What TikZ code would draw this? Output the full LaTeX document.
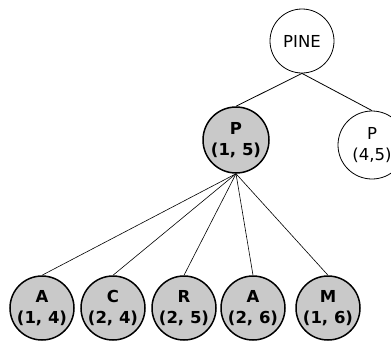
\documentclass[tikz,border=0pt]{standalone}
\usepackage{fontspec}
\setmainfont{DejaVu Sans}
\tikzset{
  trie/.style={circle, draw, minimum size=64pt, inner sep=0pt, align=center, font=\fontsize{16.5}{21}\selectfont},
  found/.style={trie, fill=black!21, line width=1.5pt, font=\fontsize{16.5}{21}\selectfont\bfseries},
  plain/.style={trie, fill=white, line width=0.8pt}
}
\begin{document}
\begin{tikzpicture}[x=1pt, y=-1pt]
        \useasboundingbox (0,0) rectangle (391,341);
        \node[plain] (pine) at (302,41) {PINE};
        \node[found, minimum size=66pt] (p15) at (236,140) {P\\(1, 5)};
        \node[plain, minimum size=68pt] (p45) at (372,145) {P\\(4,5)};
        \node[found] (a14) at (42,308) {A\\(1, 4)};
        \node[found] (c24) at (113,308) {C\\(2, 4)};
        \node[found] (r25) at (184,308) {R\\(2, 5)};
        \node[found] (a26) at (253,308) {A\\(2, 6)};
        \node[found] (m16) at (328,308) {M\\(1, 6)};
        \draw[line width=0.8pt] (pine.south) -- (p15.north);
        \draw[line width=0.8pt] (pine.south) -- (p45.north);
        \foreach \kid in {a14, c24, r25, a26, m16}
            \draw[line width=0.6pt] (p15.south) -- (\kid.north);
    \end{tikzpicture}
\end{document}
